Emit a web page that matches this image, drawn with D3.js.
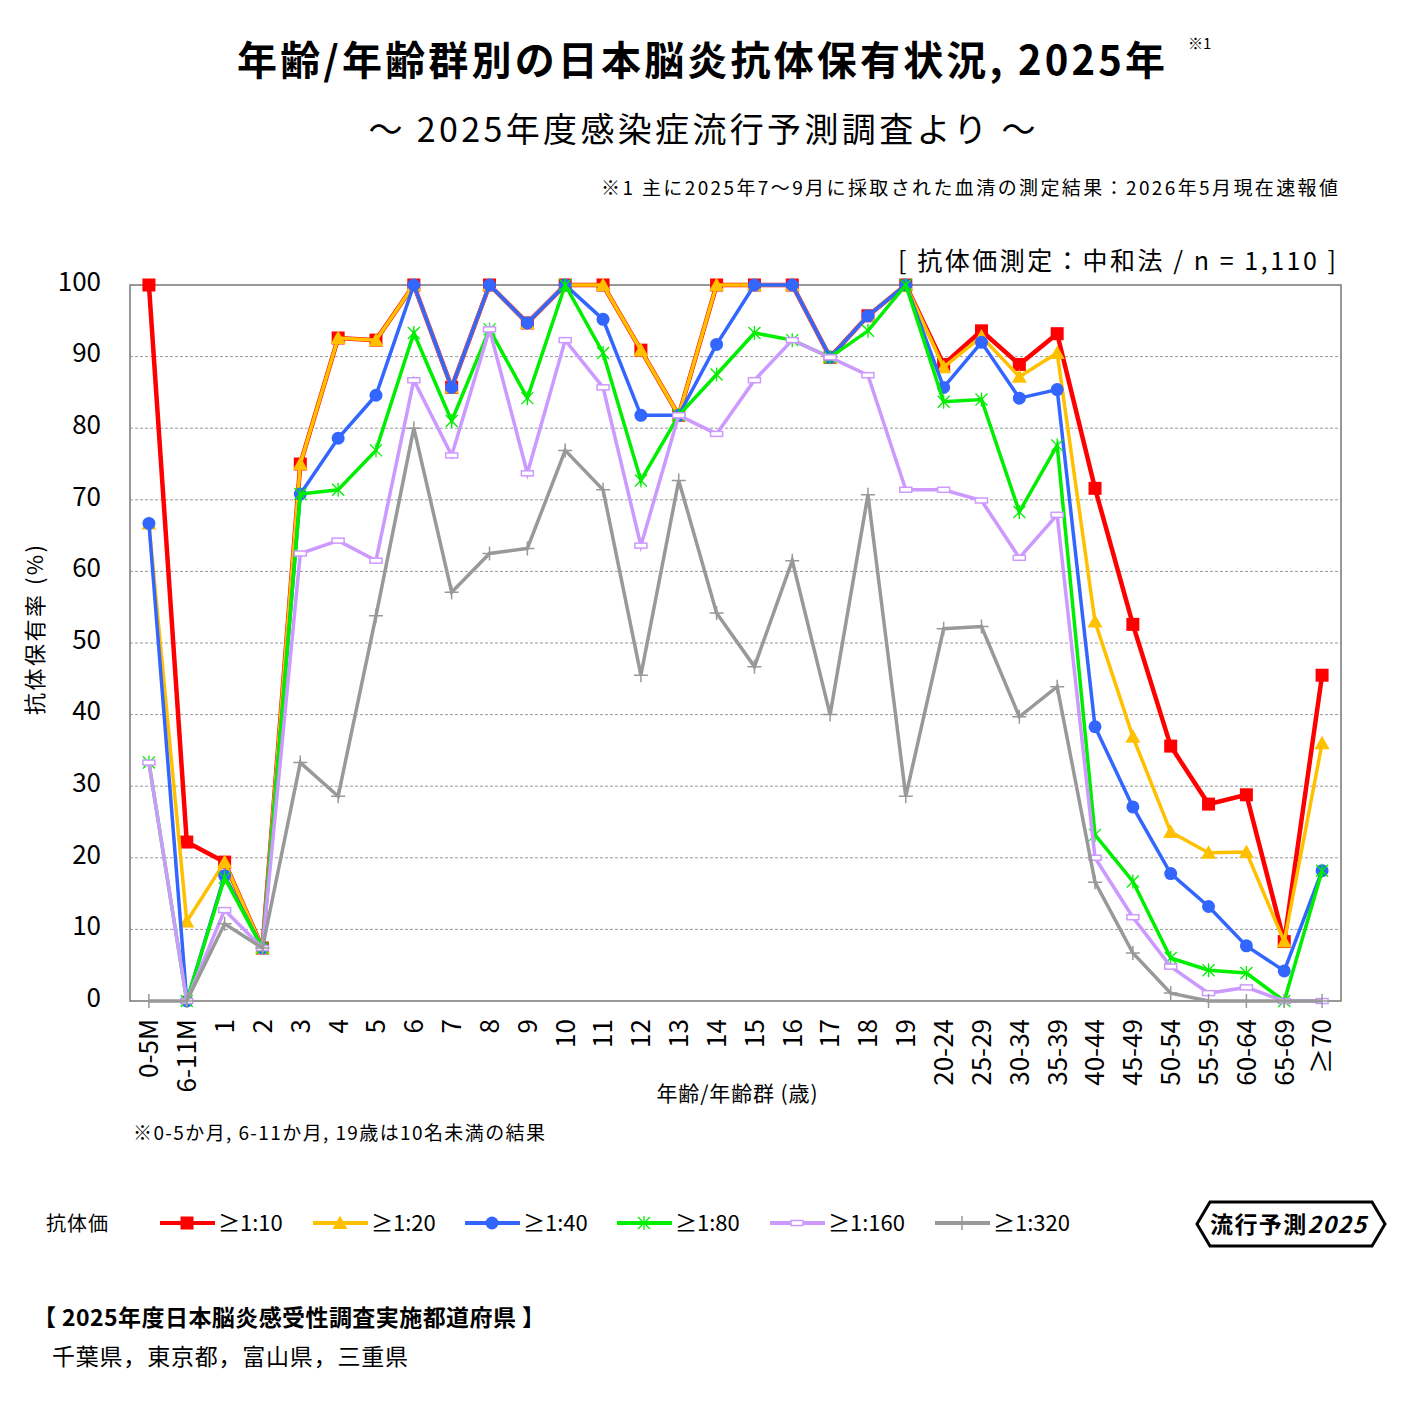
<!DOCTYPE html>
<html>
<head>
<meta charset="utf-8">
<script src="https://cdn.jsdelivr.net/npm/d3@7"></script>
<style>
  body { margin: 0; background: #fff; }
  text { font-family: "Noto Sans CJK JP", "Noto Sans", sans-serif; }
</style>
</head>
<body>
<svg id="chart" width="1417" height="1417"></svg>
<script>
const categories = ["0-5M", "6-11M", "1", "2", "3", "4", "5", "6", "7", "8", "9", "10",
  "11", "12", "13", "14", "15", "16", "17", "18", "19", "20-24", "25-29", "30-34",
  "35-39", "40-44", "45-49", "50-54", "55-59", "60-64", "65-69", "≥70"];

// 抗体保有率 (%) per titre
const titre10 = [100, 22.2, 19.4, 7.4, 75.0, 92.6, 92.3, 100, 85.7, 100, 94.7, 100,
  100, 90.9, 81.8, 100, 100, 100, 89.9, 95.7, 100, 88.9, 93.6, 88.9,
  93.2, 71.6, 52.6, 35.6, 27.5, 28.8, 8.3, 45.5];
const titre20 = [66.7, 11.1, 19.4, 7.4, 75.0, 92.6, 92.3, 100, 85.7, 100, 94.7, 100,
  100, 90.9, 81.8, 100, 100, 100, 89.9, 95.7, 100, 88.5, 92.8, 87.2,
  90.5, 53.0, 36.9, 23.6, 20.7, 20.8, 8.3, 36.0];
const titre40 = [66.7, 0, 17.5, 7.4, 70.8, 78.6, 84.6, 100, 85.7, 100, 94.7, 100,
  95.2, 81.8, 81.8, 91.7, 100, 100, 89.9, 95.7, 100, 85.7, 92.0, 84.2,
  85.4, 38.3, 27.1, 17.8, 13.2, 7.7, 4.2, 18.2];
const titre80 = [33.3, 0, 17.2, 7.4, 70.8, 71.4, 76.9, 93.3, 81.0, 93.8, 84.2, 100,
  90.5, 72.7, 81.8, 87.5, 93.3, 92.3, 89.9, 93.6, 100, 83.7, 84.0, 68.3,
  77.6, 23.2, 16.7, 6.0, 4.3, 3.9, 0, 18.2];
const titre160 = [33.3, 0, 12.7, 7.4, 62.5, 64.3, 61.5, 86.7, 76.2, 93.8, 73.7, 92.3,
  85.7, 63.6, 81.8, 79.2, 86.7, 92.3, 89.9, 87.4, 71.4, 71.4, 69.9, 61.9,
  67.9, 20.0, 11.7, 4.8, 1.1, 1.9, 0, 0];
const titre320 = [0, 0, 10.8, 7.4, 33.3, 28.6, 53.8, 80.0, 57.1, 62.5, 63.2, 76.9,
  71.4, 45.5, 72.7, 54.2, 46.7, 61.5, 40.0, 70.7, 28.6, 52.0, 52.3, 39.7,
  43.9, 16.6, 6.7, 1.1, 0, 0, 0, 0];

const seriesNames = ["≥1:10", "≥1:20", "≥1:40", "≥1:80", "≥1:160", "≥1:320"];
const yTicks = [0, 10, 20, 30, 40, 50, 60, 70, 80, 90, 100];

const series = [
  { name: seriesNames[0], values: titre10, color: "#ff0000", width: 4.5, marker: "square" },
  { name: seriesNames[1], values: titre20, color: "#ffc000", width: 3.5, marker: "triangle" },
  { name: seriesNames[2], values: titre40, color: "#3366ff", width: 3.5, marker: "circle" },
  { name: seriesNames[3], values: titre80, color: "#00ee00", width: 3.5, marker: "asterisk" },
  { name: seriesNames[4], values: titre160, color: "#cc99ff", width: 3.5, marker: "dash" },
  { name: seriesNames[5], values: titre320, color: "#999999", width: 3.5, marker: "plus" }
];

const svg = d3.select("#chart");
const plotL = 130, plotR = 1341, plotT = 285, plotB = 1001;

const x = d3.scaleBand().domain(categories).range([plotL, plotR]);
const cx = (c) => x(c) + x.bandwidth() / 2;
const y = d3.scaleLinear().domain([0, 100]).range([plotB, plotT]);

// text helper: stretch spacing so the width follows the original layout
function label(px, py, str, size, len, opts = {}) {
  const t = svg.append("text").attr("x", px).attr("y", py)
    .attr("font-size", size).text(str);
  if (opts.anchor) t.attr("text-anchor", opts.anchor);
  if (opts.bold) t.attr("font-weight", "bold");
  if (len) t.attr("textLength", len).attr("lengthAdjust", "spacing");
  return t;
}

// titles
label(701, 75, "年齢/年齢群別の日本脳炎抗体保有状況, 2025年", 40, 928, { anchor: "middle", bold: true });
svg.append("text").attr("x", 1188).attr("y", 49).attr("font-size", 15)
  .attr("font-family", "DejaVu Serif, serif").text("※1");
label(702, 142, "～ 2025年度感染症流行予測調査より ～", 34, 667, { anchor: "middle" });
label(1338, 195, "※1  主に2025年7～9月に採取された血清の測定結果：2026年5月現在速報値", 19, 737, { anchor: "end" });
label(1336, 270, "[ 抗体価測定：中和法 / n = 1,110 ]", 25, 438, { anchor: "end" });

// grid
const g = svg.append("g");
g.selectAll(".grid").data(yTicks.filter(d => d > 0 && d < 100)).join("line")
  .attr("x1", plotL).attr("x2", plotR)
  .attr("y1", d => y(d)).attr("y2", d => y(d))
  .attr("stroke", "#9a9a9a").attr("stroke-width", 1).attr("stroke-dasharray", "3,2");

g.append("rect").attr("x", plotL).attr("y", plotT)
  .attr("width", plotR - plotL).attr("height", plotB - plotT)
  .attr("fill", "none").attr("stroke", "#777").attr("stroke-width", 1.5);

// y axis
const yAxis = svg.append("g").attr("transform", `translate(${plotL},0)`)
  .call(d3.axisLeft(y).tickValues(yTicks).tickSize(0).tickPadding(29));
yAxis.select(".domain").remove();
yAxis.selectAll("text").attr("font-size", 26).attr("dy", "0.2em")
  .attr("fill", "#000").attr("font-family", "DejaVu Sans, Verdana, sans-serif");

// x axis
const xAxis = svg.append("g").attr("transform", `translate(0,${plotB})`)
  .call(d3.axisBottom(x).tickSize(0).tickPadding(0));
xAxis.select(".domain").remove();
xAxis.selectAll("text")
  .attr("font-family", "DejaVu Sans, Verdana, sans-serif").attr("font-size", 26)
  .attr("fill", "#000")
  .attr("text-anchor", "end")
  .attr("transform", "rotate(-90)")
  .attr("x", -18).attr("y", 0).attr("dy", "0.36em");

label(737, 1101, "年齢/年齢群 (歳)", 21, 161, { anchor: "middle" });
svg.append("text").attr("transform", "translate(43,630) rotate(-90)")
  .attr("text-anchor", "middle").attr("font-size", 22)
  .attr("textLength", 170).attr("lengthAdjust", "spacing").text("抗体保有率 (%)");
label(133, 1140, "※0-5か月, 6-11か月, 19歳は10名未満の結果", 19, 412);

// marker drawing
function drawMarker(sel, type, color) {
  if (type === "square") {
    sel.append("rect").attr("x", -6.5).attr("y", -6.5).attr("width", 13).attr("height", 13).attr("fill", color);
  } else if (type === "triangle") {
    sel.append("path").attr("d", "M0,-7.5L7.5,6L-7.5,6Z").attr("fill", color);
  } else if (type === "circle") {
    sel.append("circle").attr("r", 6.5).attr("fill", color);
  } else if (type === "asterisk") {
    sel.append("path").attr("d", "M-6,-6L6,6M-6,6L6,-6M0,-7L0,7")
      .attr("stroke", color).attr("stroke-width", 1.3).attr("fill", "none");
  } else if (type === "dash") {
    sel.append("rect").attr("x", -6).attr("y", -2.5).attr("width", 12).attr("height", 5)
      .attr("fill", "#fff").attr("stroke", color).attr("stroke-width", 1.5);
  } else if (type === "plus") {
    sel.append("path").attr("d", "M-7,0L7,0M0,-7L0,7")
      .attr("stroke", color).attr("stroke-width", 1.5).attr("fill", "none");
  }
}

const line = d3.line().x(d => cx(d.c)).y(d => y(d.v));

series.forEach(s => {
  const pts = categories.map((c, i) => ({ c, v: s.values[i] }));
  const sg = svg.append("g");
  sg.append("path").datum(pts).attr("d", line).attr("fill", "none")
    .attr("stroke", s.color).attr("stroke-width", s.width).attr("stroke-linejoin", "miter");
  sg.selectAll(".m").data(pts).join("g")
    .attr("transform", d => `translate(${cx(d.c)},${y(d.v)})`)
    .each(function () { drawMarker(d3.select(this), s.marker, s.color); });
});

// legend
label(46, 1231, "抗体価", 20, 62);
const legX = [160, 313, 465, 617, 770, 935];
series.forEach((s, i) => {
  const lg = svg.append("g").attr("transform", `translate(${legX[i]},1223)`);
  lg.append("line").attr("x1", 0).attr("x2", 55).attr("stroke", s.color).attr("stroke-width", 4);
  drawMarker(lg.append("g").attr("transform", "translate(27,0)"), s.marker, s.color);
  lg.append("text").attr("x", 58).attr("y", 8).attr("font-size", 22)
    .attr("font-family", "DejaVu Sans, Verdana, sans-serif").text(s.name);
});

// badge
const badge = svg.append("g");
badge.append("path").attr("d", "M1210,1202L1372,1202L1385,1224L1372,1246L1210,1246L1197,1224Z")
  .attr("fill", "#fff").attr("stroke", "#000").attr("stroke-width", 3);
const bt = badge.append("text").attr("x", 1210).attr("y", 1233).attr("font-size", 23)
  .attr("font-weight", "bold").attr("textLength", 156).attr("lengthAdjust", "spacing");
bt.append("tspan").text("流行予測");
bt.append("tspan").attr("font-style", "italic").text("2025");

// bottom notes
label(33, 1326, "【 2025年度日本脳炎感受性調査実施都道府県 】", 23, 512, { bold: true });
label(52, 1365, "千葉県，東京都，富山県，三重県", 23, 356);
</script>
</body>
</html>
